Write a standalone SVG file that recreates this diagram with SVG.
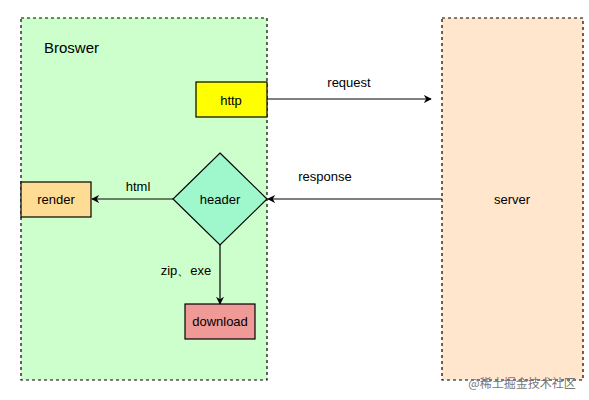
<svg xmlns="http://www.w3.org/2000/svg" width="589" height="400" viewBox="0 0 589 400">
<defs>
<style>
text{font-family:"Liberation Sans",Arial,sans-serif;font-size:13px;fill:#000}
.c{text-anchor:middle;dominant-baseline:central}
.box{stroke:#000;stroke-width:1.2}
.dash{stroke:#000;stroke-width:1.2;stroke-dasharray:3 3}
.ln{stroke:#000;stroke-width:1.2;fill:none}
</style>
<marker id="ah" viewBox="0 0 10 10" refX="9" refY="5" markerWidth="8" markerHeight="8" markerUnits="userSpaceOnUse" orient="auto">
<path d="M0,0 L10,5 L0,10 L3,5 Z" fill="#000"/>
</marker>
</defs>
<rect width="589" height="400" fill="#fff"/>
<g id="browser">
<rect x="21" y="18" width="246" height="362" fill="#ccffcc" class="dash"/>
<text x="44" y="53" style="font-size:15px">Broswer</text>
</g>
<g id="server">
<rect x="442" y="18" width="141" height="362" fill="#ffe6cc" class="dash"/>
<text x="512" y="199" class="c">server</text>
</g>
<g id="connectors">
<line x1="267" y1="99" x2="431" y2="99" class="ln" marker-end="url(#ah)"/>
<text x="349" y="82" class="c">request</text>
<line x1="442" y1="199" x2="268" y2="199" class="ln" marker-end="url(#ah)"/>
<text x="325" y="176" class="c">response</text>
<line x1="173" y1="199" x2="92" y2="199" class="ln" marker-end="url(#ah)"/>
<text x="138" y="186" class="c">html</text>
<line x1="220" y1="245" x2="220" y2="304" class="ln" stroke-width="1.6" marker-end="url(#ah)"/>
<text x="186" y="270" class="c">zip、exe</text>
</g>
<g id="http">
<rect x="196" y="82" width="71" height="35" fill="#ffff00" class="box"/>
<text x="231" y="100" class="c">http</text>
</g>
<g id="header">
<polygon points="220,153 267,199 220,245 173,199" fill="#9ff7cc" class="box"/>
<text x="220" y="199" class="c">header</text>
</g>
<g id="render">
<rect x="21" y="182" width="70" height="35" fill="#ffdc93" class="box"/>
<text x="56" y="199.5" class="c">render</text>
</g>
<g id="download">
<rect x="185" y="304" width="70" height="35" fill="#f09a98" class="box"/>
<text x="220" y="321.5" class="c">download</text>
</g>
<text x="522" y="382" class="c" style="font-size:12px;fill:#777;font-family:'Noto Sans CJK SC',sans-serif">@稀土掘金技术社区</text>
</svg>
